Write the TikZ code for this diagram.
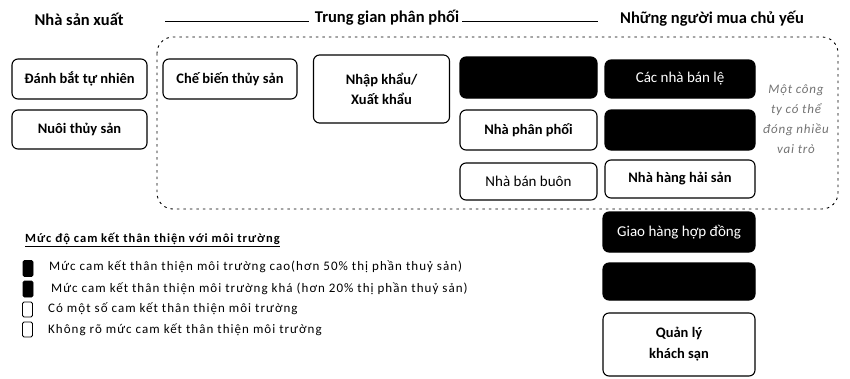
\documentclass[tikz,border=0pt]{standalone}
\usepackage{fontspec}
\setmainfont{Carlito}
\newfontfamily\legfont[LetterSpace=8]{Carlito}
\newfontfamily\notefont[LetterSpace=6]{Carlito}
\begin{document}
\begin{tikzpicture}[x=1pt,y=-1pt,
  box/.style={draw=black, line width=1.1pt, rounded corners=6pt, align=center, inner sep=0pt, font=\fontsize{14.5}{19}\selectfont\bfseries},
  wbox/.style={box, font=\fontsize{15}{19}\selectfont},
  bbox/.style={box, fill=black, text=white, font=\fontsize{15}{19}\selectfont},
  head/.style={font=\fontsize{16.5}{19}\selectfont\bfseries, inner sep=0pt},
  leg/.style={font=\legfont\fontsize{13}{15}\selectfont, anchor=west, inner sep=0pt},
  sq/.style={draw=black, line width=0.9pt, rounded corners=1.5pt, minimum width=10pt, minimum height=15pt, inner sep=0pt}
]
\useasboundingbox (0,0) rectangle (850,378);
% headers
\node[head] (hprod) at (79,19) {Nhà sản xuất};
\node[head] (hmid) at (387,18) {Trung gian phân phối};
\node[head] (hbuy) at (712,19) {Những người mua chủ yếu};
\coordinate (la) at (165,21);
\coordinate (lc) at (598,21);
\draw[line width=0.8pt] (la) -- ([xshift=-6pt]hmid.west |- la);
\draw[line width=0.8pt] ([xshift=3pt]hmid.east |- lc) -- (lc);
% dotted region
\draw[line width=0.9pt, dash pattern=on 2.5pt off 4pt, rounded corners=16pt] (157,37) rectangle (838,209);
% producer boxes
\node[box, minimum width=135pt, minimum height=40pt] (danh) at (79.5,79) {Đánh bắt tự nhiên};
\node[box, minimum width=135pt, minimum height=39pt] (nuoi) at (79.5,129.5) {Nuôi thủy sản};
% intermediaries
\node[box, minimum width=134pt, minimum height=40pt] (che) at (230,79) {Chế biến thủy sản};
\node[box, minimum width=136pt, minimum height=68pt] (nhap) at (381.5,89) {Nhập khẩu/\\[1pt]Xuất khẩu};
\node[bbox, minimum width=137pt, minimum height=41pt] (b1) at (528.5,77.5) {};
\node[box, minimum width=137pt, minimum height=40pt] (npp) at (528.5,130) {Nhà phân phối};
\node[wbox, minimum width=137pt, minimum height=37pt] (nbb) at (528.5,181.5) {Nhà bán buôn};
% buyers
\node[bbox, minimum width=150pt, minimum height=38pt] (le) at (680,79) {Các nhà bán lệ};
\node[bbox, minimum width=150pt, minimum height=40pt] (b2) at (680,130) {};
\node[box, minimum width=150pt, minimum height=38pt] (nhh) at (680,179) {Nhà hàng hải sản};
\node[bbox, minimum width=152pt, minimum height=40pt] (giao) at (679,232) {Giao hàng hợp đồng};
\node[bbox, minimum width=152pt, minimum height=37pt] (b3) at (679,281.5) {};
\node[box, minimum width=152pt, minimum height=63pt] (ql) at (679,344.5) {Quản lý\\[2pt]khách sạn};
% note
\node[align=center, text=black!55, font=\notefont\fontsize{13}{20}\selectfont\itshape, inner sep=0pt] (note) at (796,119) {Một công\\ty có thể\\đóng nhiều\\vai trò};
% legend
\node[anchor=west, inner sep=0pt, font=\legfont\fontsize{12.5}{15}\selectfont\bfseries] (lt) at (25,240) {\underline{Mức độ cam kết thân thiện với môi trường}};
\node[sq, fill=black, minimum height=16pt] (s1) at (28,268.5) {};
\node[leg] (t1) at (49,267) {Mức cam kết thân thiện môi trường cao(hơn 50\% thị phần thuỷ sản)};
\node[sq, fill=black, minimum height=16pt] (s2) at (28,289) {};
\node[leg] (t2) at (51,289) {Mức cam kết thân thiện môi trường khá (hơn 20\% thị phần thuỷ sản)};
\node[sq] (s3) at (27.5,309.5) {};
\node[leg] (t3) at (48,309) {Có một số cam kết thân thiện môi trường};
\node[sq] (s4) at (27.5,329.5) {};
\node[leg] (t4) at (48,330) {Không rõ mức cam kết thân thiện môi trường};
\end{tikzpicture}
\end{document}
